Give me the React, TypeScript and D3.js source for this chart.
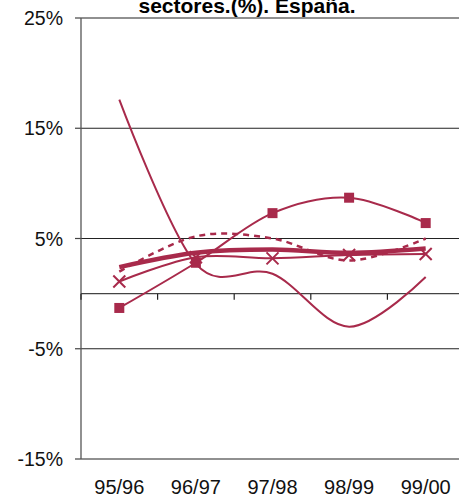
import React from 'react';
import * as d3 from 'd3';

const categories = ['95/96', '96/97', '97/98', '98/99', '99/00'];
const yTicks = [25, 15, 5, -5, -15];

// valores (%)
const serieCuadrados = [-1.3, 2.8, 7.3, 8.7, 6.4];
const serieFina = [17.6, 2.7, 1.8, -3.0, 1.5];
const serieAspas = [1.1, 3.3, 3.2, 3.5, 3.6];
const serieDiscontinua = [2.0, 5.2, 5.0, 3.0, 5.0];
const serieGruesa = [2.4, 3.7, 4.0, 3.7, 4.1];

const COLOR = '#A82A4B';
const FONT = 'Arial, "Liberation Sans", sans-serif';

const App: React.FC = () => {
  const width = 459;
  const height = 495;
  const left = 81;
  const top = 18;
  const bottom = 459;
  const bandW = 76.6;

  const x = d3.scaleBand<string>()
    .domain(categories)
    .range([left, left + bandW * categories.length]);
  const y = d3.scaleLinear().domain([-15, 25]).range([bottom, top]);

  const cx = (i: number) => (x(categories[i]) as number) + x.bandwidth() / 2;

  const line = d3.line<number>()
    .x((_, i) => cx(i))
    .y(d => y(d))
    .curve(d3.curveCardinal.tension(0));

  const boundaries = d3.range(categories.length + 1).map(i => left + i * bandW);

  return (
    <svg width={width} height={height} style={{ position: 'absolute', left: 0, top: 0, background: '#fff' }}>
      <text x={247} y={12.5} textAnchor="middle" fontFamily={FONT} fontWeight="bold" fontSize={21}>
        sectores.(%). España.
      </text>

      {/* lineas de division */}
      {yTicks.map(t => (
        <g key={t}>
          <line x1={left} x2={width} y1={y(t)} y2={y(t)} stroke="#222" strokeWidth={1.2} />
          <line x1={left - 6} x2={left} y1={y(t)} y2={y(t)} stroke="#444" strokeWidth={1.2} />
          <text x={63} y={y(t) + 7} textAnchor="end" fontFamily={FONT} fontSize={19.5} fill="#111">
            {t}%
          </text>
        </g>
      ))}
      <line x1={left} x2={left} y1={top} y2={bottom} stroke="#555" strokeWidth={1.3} />

      {/* eje de categorias en 0 */}
      <line x1={left} x2={width} y1={y(0)} y2={y(0)} stroke="#444" strokeWidth={1.2} />
      {boundaries.map((b, i) => (
        <line key={i} x1={b} x2={b} y1={y(0)} y2={y(0) + 6} stroke="#222" strokeWidth={1.2} />
      ))}
      {categories.map((c, i) => (
        <text key={c} x={cx(i)} y={494} textAnchor="middle" fontFamily={FONT} fontSize={20} fill="#111">
          {c}
        </text>
      ))}

      {/* series */}
      <path d={line(serieFina) || ''} fill="none" stroke={COLOR} strokeWidth={2} />
      <path d={line(serieCuadrados) || ''} fill="none" stroke={COLOR} strokeWidth={2} />
      {serieCuadrados.map((v, i) => (
        <rect key={i} x={cx(i) - 5} y={y(v) - 5} width={10} height={10} fill={COLOR} />
      ))}
      <path d={line(serieAspas) || ''} fill="none" stroke={COLOR} strokeWidth={2} />
      {serieAspas.map((v, i) => (
        <path
          key={i}
          d={`M${cx(i) - 6},${y(v) - 6}L${cx(i) + 6},${y(v) + 6}M${cx(i) - 6},${y(v) + 6}L${cx(i) + 6},${y(v) - 6}`}
          stroke={COLOR}
          strokeWidth={2}
        />
      ))}
      <path d={line(serieDiscontinua) || ''} fill="none" stroke={COLOR} strokeWidth={2.5} strokeDasharray="6,5" />
      <path d={line(serieGruesa) || ''} fill="none" stroke={COLOR} strokeWidth={4.5} />
    </svg>
  );
};

export default App;
